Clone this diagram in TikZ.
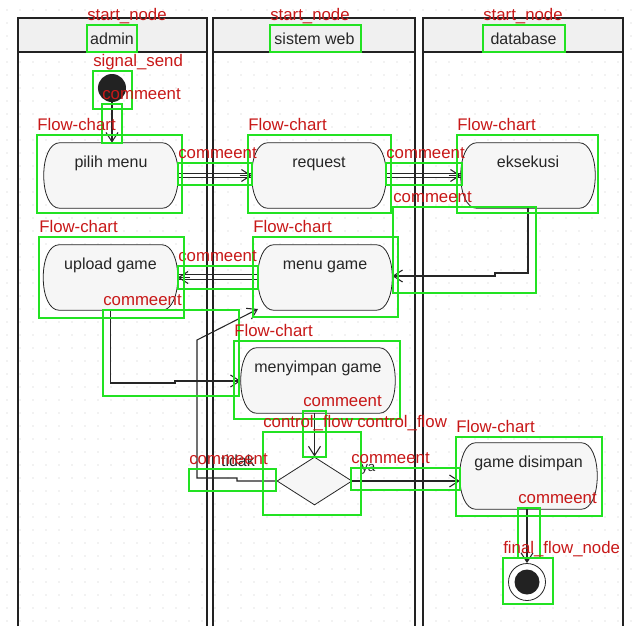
\documentclass[tikz,border=0pt]{standalone}
\usepackage{fontspec}
\setmainfont{Liberation Sans}
\usetikzlibrary{arrows.meta,calc,shapes.geometric}
\definecolor{gboxc}{RGB}{34,226,34}
\definecolor{lredc}{RGB}{200,24,24}
\definecolor{lanec}{RGB}{34,34,34}
\definecolor{actfill}{RGB}{246,246,246}
\definecolor{hdrfill}{RGB}{240,240,240}
\definecolor{dotc}{RGB}{200,200,200}
\newcommand{\actnode}[6]{%
  \node[actbox, minimum width=#4*0.75pt, minimum height=#5*0.75pt] (#1) at (#2,#3) {};
  \draw[actline] ($(#1.north west)+(16,0)$) -- ($(#1.north east)+(-16,0)$)
     .. controls +(10,0) and +(0,-18) .. (#1.east)
     .. controls +(0,18) and +(10,0) .. ($(#1.south east)+(-16,0)$)
     -- ($(#1.south west)+(16,0)$)
     .. controls +(-10,0) and +(0,18) .. (#1.west)
     .. controls +(0,-18) and +(-10,0) .. ($(#1.north west)+(16,0)$) -- cycle;
  \node[acttext] (#1t) at ($(#1.north)+(0,25)$) {#6};
}
\newcommand{\annot}[6]{%
  \draw[gbox] (#2,#3) rectangle (#4,#5);
  \node[lbl] (#1) at (#2,#3-5) {#6};
}
\begin{document}
\begin{tikzpicture}[x=0.75pt,y=-0.75pt,
  actbox/.style={rectangle, inner sep=0pt, draw=none},
  actline/.style={draw=black!85, fill=actfill, line width=0.6pt},
  acttext/.style={anchor=base, inner sep=0pt, font=\fontsize{12}{14}\selectfont, text=black!85},
  hdrtext/.style={anchor=base, inner sep=0pt, font=\fontsize{12}{14}\selectfont, text=black!85},
  laneline/.style={draw=lanec, line width=2pt},
  conn/.style={draw=black!85, line width=0.8pt},
  tipped/.style={conn, -{Straight Barb[length=7pt,width=9pt]}},
  gbox/.style={draw=gboxc, line width=2.2pt},
  lbl/.style={anchor=base west, inner sep=0pt, text=lredc, font=\fontsize{12.6}{14}\selectfont},
  decision/.style={diamond, draw=black!85, fill=actfill, line width=0.6pt, inner sep=0pt, minimum width=75*0.75pt, minimum height=48*0.75pt},
  initnode/.style={circle, fill=lanec, inner sep=0pt, minimum size=28*0.75pt},
  finalring/.style={circle, draw=black!85, line width=0.6pt, fill=white, inner sep=0pt, minimum size=37*0.75pt},
  finaldot/.style={circle, fill=lanec, inner sep=0pt, minimum size=25*0.75pt}
]
\useasboundingbox (0,0) rectangle (640,640);
\fill[white] (0,0) rectangle (640,640);
% dotted background grid
\foreach \x in {7,20,...,636} {
  \foreach \y in {10,23,...,622} {
    \fill[dotc] (\x,\y) circle (0.5pt);
  }
}
% swimlanes
\foreach \xl/\xr in {18/207, 213/415, 423/623} {
  \fill[hdrfill] (\xl,18) rectangle (\xr,52);
  \draw[laneline] (\xl,626) -- (\xl,18) -- (\xr,18) -- (\xr,626);
  \draw[laneline] (\xl,52) -- (\xr,52);
}
\node[hdrtext] (hadmin) at (112,44) {admin};
\node[hdrtext] (hweb) at (314.5,44) {sistem web};
\node[hdrtext] (hdb) at (523.5,44) {database};

% nodes
\node[initnode] (init) at (112,88) {};
\actnode{pm}{111}{175.5}{134}{65}{pilih menu}
\actnode{rq}{319}{175.5}{134}{65}{request}
\actnode{ek}{528}{175.5}{134}{65}{eksekusi}
\actnode{ug}{110.5}{277.5}{134}{65}{upload game}
\actnode{mg}{325}{277.5}{134}{65}{menu game}
\actnode{ms}{318}{380.5}{154}{65}{menyimpan game}
\actnode{gd}{528.5}{476}{137}{66}{game disimpan}
\node[decision] (dec) at (314.5,481) {};
\node[finalring] (fin) at (527,582) {};
\node[finaldot] (find) at (fin.center) {};

% connectors
\draw[tipped] (init.south) -- (pm.north -| init.south);
\draw[conn] ($(pm.east)+(0,-2.3)$) -- ($(rq.west)+(0,-2.3)$);
\draw[conn] ($(pm.east)+(0,2.3)$) -- ($(rq.west)+(0,2.3)$);
\draw[tipped] ($(rq.west)+(-12,0)$) -- (rq.west);
\draw[conn] ($(rq.east)+(0,-2.3)$) -- ($(ek.west)+(0,-2.3)$);
\draw[conn] ($(rq.east)+(0,2.3)$) -- ($(ek.west)+(0,2.3)$);
\draw[tipped] ($(ek.west)+(-12,0)$) -- (ek.west);
\coordinate (c1) at (528,273);
\coordinate (c2) at (495,273);
\coordinate (c3) at (495,276);
\draw[tipped] (ek.south) -- (c1) -- (c2) -- (c3) -- (mg.east |- c3);
\draw[conn] ($(mg.west)+(0,-3)$) -- ($(ug.east)+(0,-3)$);
\draw[conn] ($(mg.west)+(0,2)$) -- ($(ug.east)+(0,2)$);
\draw[tipped] ($(ug.east)+(12,0)$) -- (ug.east);
\coordinate (u1) at (110.5,383);
\coordinate (u2) at (175,383);
\coordinate (u3) at (175,381);
\draw[tipped] (ug.south) -- (u1) -- (u2) -- (u3) -- (ms.west |- u3);
\draw[tipped] (ms.south -| dec.north) -- (dec.north);
\draw[tipped] (dec.east) -- (gd.west |- dec.east);
\coordinate (t1) at (237,481);
\coordinate (t2) at (237,478);
\coordinate (t3) at (197,478);
\coordinate (t4) at (197,340);
\coordinate (t5) at (258,309);
\draw[tipped] (dec.west) -- (t1) -- (t2) -- (t3) -- (t4) -- (t5);
\draw[tipped] (gd.south -| fin.north) -- (fin.north);
\node[hdrtext] (tidak) at (238,466) {tidak};
\node[hdrtext, anchor=base west, font=\fontsize{10}{12}\selectfont] (ya) at (361,471) {ya};

% annotation boxes and labels
\annot{a1}{87}{25}{137}{52}{start\_node}
\annot{a2}{270}{25}{361}{52}{start\_node}
\annot{a3}{483}{25}{565}{52}{start\_node}
\annot{a4}{93}{71}{132}{109}{signal\_send}
\annot{a5}{102}{104}{122}{143}{commeent}
\annot{a6}{37}{135}{182}{213}{Flow-chart}
\annot{a7}{248}{135}{391}{213}{Flow-chart}
\annot{a8}{457}{135}{598}{213}{Flow-chart}
\annot{a9}{178}{163}{252}{185}{commeent}
\annot{a10}{386}{163}{462}{185}{commeent}
\annot{a11}{393}{207}{536}{293}{commeent}
\annot{a12}{253}{237}{398}{317}{Flow-chart}
\annot{a13}{178}{266}{258}{289}{commeent}
\annot{a14}{39}{237}{184}{318}{Flow-chart}
\annot{a15}{103}{310}{239}{396}{commeent}
\annot{a16}{234}{341}{400}{419}{Flow-chart}
\annot{a17}{303}{411}{326}{457}{commeent}
\annot{a18}{263}{432}{361}{515}{control\_flow}
\node[lbl] (a18b) at (357,427) {control\_flow};
\annot{a19}{189}{469}{276}{491}{commeent}
\annot{a20}{351}{468}{460}{490}{commeent}
\annot{a21}{456}{437}{602}{516}{Flow-chart}
\annot{a22}{518}{508}{540}{558}{commeent}
\annot{a23}{503}{558}{553}{604}{final\_flow\_node}
\end{tikzpicture}
\end{document}
